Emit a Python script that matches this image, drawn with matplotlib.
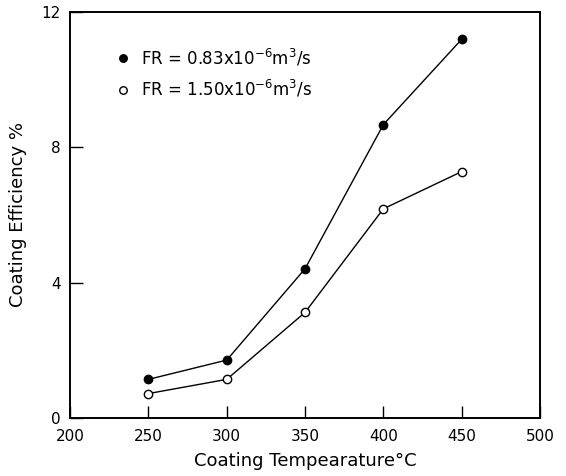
import matplotlib.pyplot as plt

temps = [250, 300, 350, 400, 450]
eff_fr083 = [1.14, 1.71, 4.41, 8.67, 11.19]
eff_fr150 = [0.72, 1.14, 3.12, 6.18, 7.28]
labels = [r"FR = 0.83x10$^{-6}$m$^3$/s", r"FR = 1.50x10$^{-6}$m$^3$/s"]
xticks = [200, 250, 300, 350, 400, 450, 500]
yticks = [0, 4, 8, 12]

fig = plt.figure(figsize=(5.66, 4.76), dpi=100)
ax = fig.add_axes([0.124, 0.122, 0.830, 0.853])

ax.plot(temps, eff_fr083, "-o", color="black", mfc="black", ms=6, lw=1.0, label=labels[0])
ax.plot(temps, eff_fr150, "-o", color="black", mfc="white", ms=6, lw=1.0, label=labels[1])

ax.set_xlim(200, 500)
ax.set_ylim(0, 12)
ax.set_xticks(xticks)
ax.set_yticks(yticks)
ax.tick_params(direction="in", length=9, width=1.0, labelsize=11)
ax.tick_params(axis="x", pad=8)
ax.tick_params(axis="y", pad=7)
for s in ax.spines.values():
    s.set_linewidth(1.4)

ax.set_xlabel("Coating Tempearature°C", fontsize=13, labelpad=6)
ax.set_ylabel("Coating Efficiency %", fontsize=13, labelpad=10)

ax.legend(loc="upper left", bbox_to_anchor=(0.07, 0.95), frameon=False,
          fontsize=12, handlelength=0.6, handletextpad=0.8, labelspacing=0.6,
          markerscale=0.9)
for line in ax.get_legend().get_lines():
    line.set_linestyle("none")

fig.savefig("out.png", dpi=100)
